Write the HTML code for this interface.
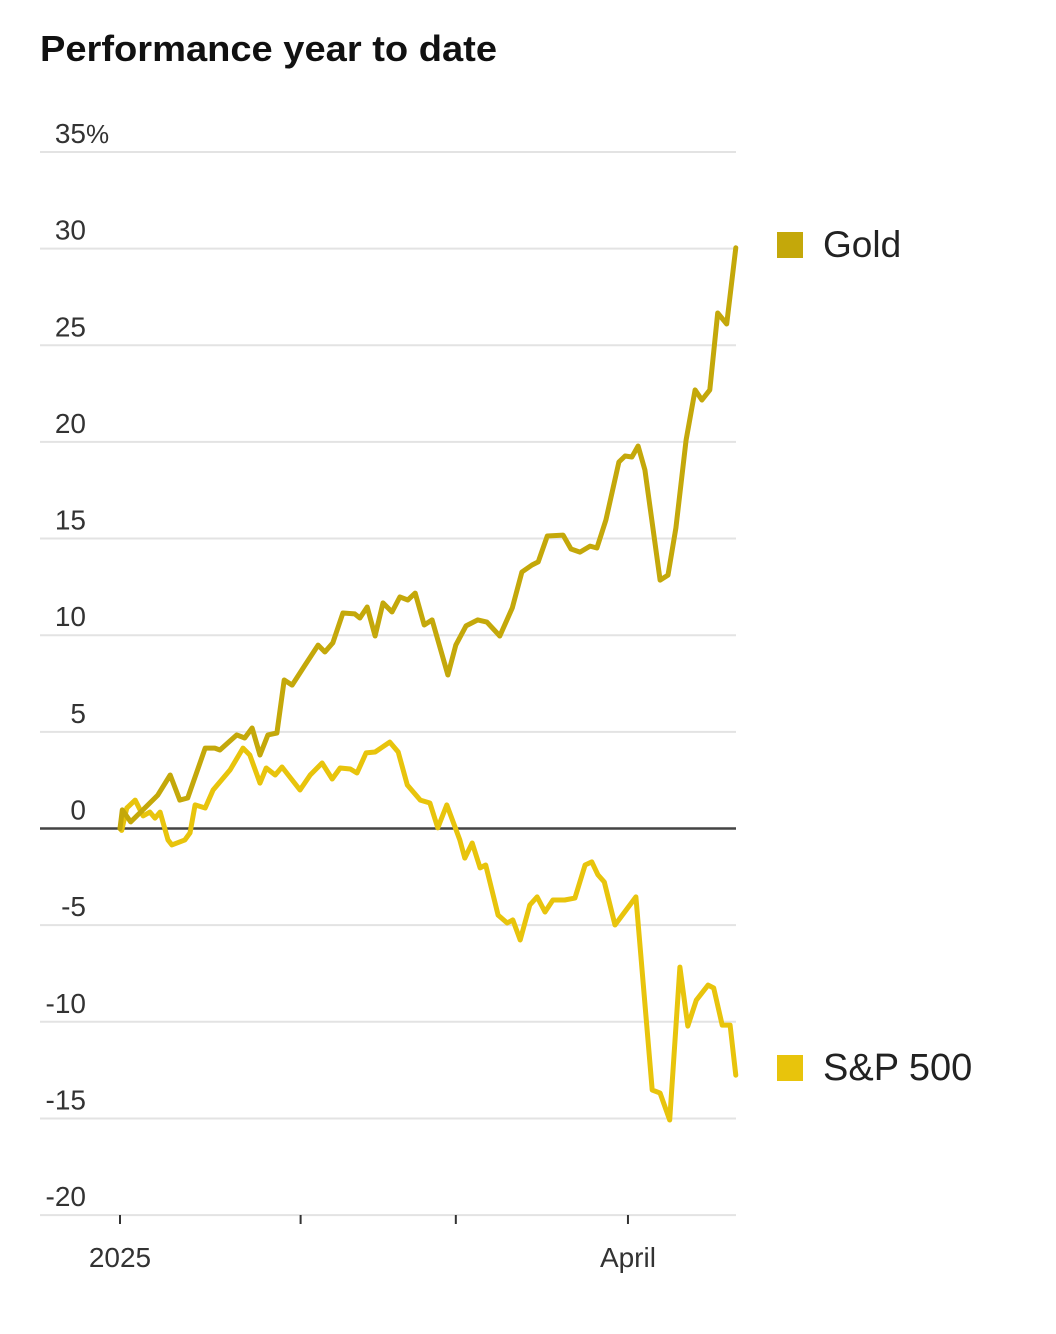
<!DOCTYPE html>
<html><head><meta charset="utf-8"><style>
body{margin:0;background:#fff;width:1056px;height:1334px;overflow:hidden;font-family:"Liberation Sans",sans-serif}
svg{display:block}
</style></head><body>
<svg width="1056" height="1334">
<text x="40" y="61" font-size="36" font-weight="bold" fill="#111" textLength="457" lengthAdjust="spacingAndGlyphs">Performance year to date</text>
<g id="grid"></g><g id="xaxis"></g><g id="series"></g>
<g>
<rect x="777" y="232" width="26" height="26" fill="#c4a80a"/>
<text x="823" y="257" font-size="37" fill="#222">Gold</text>
<rect x="777" y="1055" width="26" height="26" fill="#e8c40c"/>
<text x="823" y="1080" font-size="38" fill="#222">S&amp;P 500</text>
</g>
</svg>
<script>
const yTicks=[35,30,25,20,15,10,5,0,-5,-10,-15,-20];
const xTickDays=[0,32,59.5,90];
const xLabels=[{day:0,text:"2025"},{day:90,text:"April"}];
const goldDays=[0,0.4,1.9,4.4,6.7,8.9,10.6,12.0,15.1,16.8,17.7,20.7,22.1,23.4,24.8,26.2,27.8,29.1,30.5,32.8,35.1,36.3,37.7,39.5,41.6,42.5,43.8,45.2,46.6,48.2,49.6,51.0,52.3,53.9,55.3,58.1,59.5,61.3,63.4,65.0,67.3,69.5,71.2,73.0,74.1,75.7,78.5,79.9,81.5,83.3,84.5,86.1,88.4,89.5,90.7,91.8,93.0,95.7,97.1,98.5,100.3,101.9,103.1,104.5,105.9,107.5,109.1];
const goldValues=[0,0.96,0.34,1.06,1.73,2.77,1.47,1.58,4.16,4.16,4.06,4.84,4.68,5.2,3.8,4.84,4.94,7.68,7.42,8.46,9.49,9.13,9.6,11.15,11.1,10.89,11.46,9.96,11.67,11.2,11.98,11.82,12.18,10.53,10.79,7.94,9.49,10.48,10.79,10.68,9.96,11.41,13.27,13.63,13.79,15.13,15.18,14.46,14.3,14.61,14.51,15.96,18.96,19.27,19.22,19.79,18.55,12.85,13.11,15.55,20.1,22.69,22.17,22.69,26.67,26.1,30.04];
const spDays=[0,0.3,1.2,2.7,4.1,5.3,6.2,7.1,8.5,9.2,11.5,12.4,13.3,15.1,16.5,19.5,21.8,23.0,24.8,25.9,27.5,28.7,31.9,33.7,35.8,37.6,39.0,40.8,42.0,43.6,45.2,47.8,49.3,50.9,53.2,54.9,56.3,57.9,60.2,61.1,62.4,63.8,64.8,67.0,68.6,69.6,70.9,72.6,73.9,75.3,76.7,78.8,80.6,82.4,83.6,84.7,85.8,87.7,91.4,94.3,95.7,97.4,99.2,100.6,102.1,104.2,105.2,106.7,108.1,109.1];
const spValues=[0,-0.1,1.06,1.47,0.65,0.85,0.54,0.85,-0.59,-0.85,-0.59,-0.23,1.22,1.06,1.99,3.03,4.16,3.8,2.35,3.13,2.77,3.18,1.99,2.77,3.39,2.56,3.13,3.08,2.87,3.91,3.96,4.47,3.96,2.25,1.47,1.32,0.03,1.22,-0.59,-1.53,-0.75,-2.04,-1.89,-4.48,-4.89,-4.73,-5.77,-3.96,-3.54,-4.32,-3.7,-3.7,-3.6,-1.89,-1.73,-2.4,-2.77,-4.99,-3.54,-13.53,-13.69,-15.08,-7.17,-10.22,-8.88,-8.1,-8.25,-10.17,-10.17,-12.76];
const NS="http://www.w3.org/2000/svg";
const X=d=>120+d*5.644;
const Y=v=>828.5-v*19.33;
function mk(tag,attrs,parent){const e=document.createElementNS(NS,tag);for(const k in attrs)e.setAttribute(k,attrs[k]);parent.appendChild(e);return e;}
const grid=document.getElementById('grid');
yTicks.forEach(v=>{
  if(v!==0){const l=mk('line',{x1:40,x2:736,y1:Y(v),y2:Y(v),stroke:'#e3e3e3','stroke-width':2},grid);
  
  }
  const t=mk('text',{x:86,y:Y(v)-9,'text-anchor':'end','font-size':28,fill:'#333','font-family':'"Liberation Sans Narrow","Liberation Sans",sans-serif'},grid);
  t.textContent=String(v);
  
  
  if(v===35){const p=mk('text',{x:86,y:Y(v)-9,'font-size':26,fill:'#333','font-family':'"Liberation Sans Narrow","Liberation Sans",sans-serif'},grid);p.textContent='%';
  
  }
});
const xa=document.getElementById('xaxis');
xTickDays.forEach(d=>{const l=mk('line',{x1:X(d),x2:X(d),y1:1215,y2:1224,stroke:'#333','stroke-width':2},xa);

});
xLabels.forEach(o=>{const t=mk('text',{x:X(o.day),y:1267,'text-anchor':'middle','font-size':28,fill:'#333','font-family':'"Liberation Sans Narrow","Liberation Sans",sans-serif'},xa);t.textContent=o.text;

});
const zl=mk('line',{x1:40,x2:736,y1:Y(0),y2:Y(0),stroke:'#444','stroke-width':2.5},xa);


const s=document.getElementById('series');
function line(days,vals,color,name){const d=days.map((x,i)=>(i?'L':'M')+X(x).toFixed(1)+','+Y(vals[i]).toFixed(1)).join('');
const p=mk('path',{d:d,fill:'none',stroke:color,'stroke-width':5,'stroke-linejoin':'round','stroke-linecap':'round'},s);

}
line(spDays,spValues,'#e8c40c','sp500-line');
line(goldDays,goldValues,'#c4a80a','gold-line');
</script>
</body></html>
